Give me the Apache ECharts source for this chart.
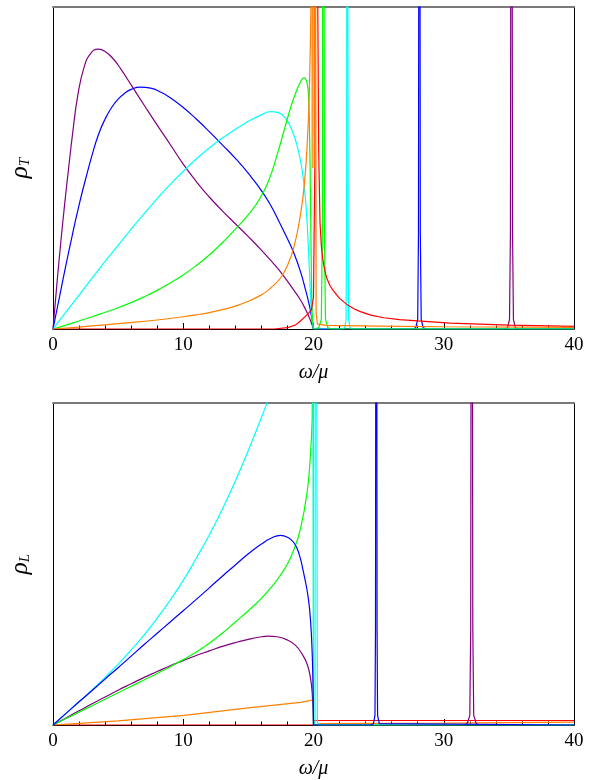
<!DOCTYPE html>
<html>
<head>
<meta charset="utf-8">
<script src="https://cdn.jsdelivr.net/npm/echarts@6/dist/echarts.min.js"></script>
<style>
  html, body { margin: 0; padding: 0; background: #fff; }
  #chart { width: 600px; height: 780px; }
</style>
</head>
<body>
<div id="chart"></div>
<script>
// x ticks shared by both panels
var xTicks = [0, 10, 20, 30, 40];

// upper panel, rho_T (y as fraction of the panel height)
// smooth body of each curve, then the sharp peaks/tails drawn as plain polylines
var topPurple = [[0,0],[0.3,0.14],[0.6,0.27],[0.9,0.39],[1.2,0.5],[1.5,0.605],[1.9,0.725],[2.4,0.815],[2.9,0.856],[3.47,0.869],[4.0,0.862],[4.6,0.84],[5.2,0.808],[6.0,0.758],[7.0,0.695],[8.0,0.633],[9.0,0.573],[10.0,0.512],[11.0,0.458],[12.0,0.41],[13.0,0.367],[14.0,0.327],[15.0,0.287],[16.0,0.245],[17.0,0.2],[17.7,0.165],[18.5,0.12],[19.0,0.09],[19.4,0.06],[19.7,0.033],[19.9,0.012],[20,0]];
var topPurplePeak = [[20,0],[34.6,0],[34.9,0.004],[35.05,0.03],[35.12,0.3],[35.2,3],[35.28,0.3],[35.35,0.03],[35.5,0.004],[35.8,0],[40,0]];
var topBlue = [[0,0],[0.5,0.1],[1,0.2],[1.5,0.295],[2,0.385],[2.5,0.465],[3,0.54],[3.5,0.605],[4,0.652],[4.5,0.688],[5,0.714],[5.5,0.732],[6,0.744],[6.7,0.751],[7.5,0.748],[8.3,0.735],[9,0.718],[10,0.688],[11,0.652],[12,0.613],[13,0.572],[14,0.53],[15,0.483],[16,0.43],[16.7,0.385],[17.4,0.33],[18,0.28],[18.5,0.235],[19,0.178],[19.4,0.12],[19.7,0.07],[19.9,0.025],[20,0]];
var topBluePeak = [[20,0],[27.6,0],[27.85,0.004],[28.0,0.03],[28.06,0.3],[28.13,3],[28.2,0.3],[28.27,0.03],[28.42,0.004],[28.7,0],[40,0]];
var topCyan = [[0,0],[1,0.053],[2,0.105],[3,0.158],[4,0.21],[5,0.26],[6,0.31],[7,0.358],[8,0.405],[9,0.449],[10,0.49],[11,0.528],[12,0.562],[13,0.593],[14,0.62],[15,0.645],[16,0.665],[16.7,0.675],[17.3,0.672],[17.9,0.652],[18.4,0.612],[18.8,0.56],[19.1,0.5],[19.35,0.42],[19.55,0.3],[19.7,0.17],[19.85,0.05],[20,0]];
var topCyanPeak = [[20,0],[22.2,0],[22.4,0.004],[22.5,0.03],[22.54,0.3],[22.6,3],[22.66,0.3],[22.7,0.03],[22.8,0.004],[23,0],[40,0]];
var topGreen = [[0,0],[1,0.012],[2,0.025],[3,0.038],[4,0.052],[5,0.066],[6,0.082],[7,0.1],[8,0.12],[9,0.143],[10,0.168],[11,0.197],[12,0.23],[13,0.268],[14,0.31],[15,0.355],[15.8,0.40],[16.5,0.455],[17.2,0.54],[17.8,0.625],[18.3,0.695],[18.7,0.74],[19.0,0.767],[19.26,0.78],[19.5,0.765],[19.62,0.72],[19.7,0.6],[19.77,0.4],[19.83,0.2],[19.9,0.05],[20,0]];
var topGreenPeak = [[20,0],[20.4,0.004],[20.6,0.03],[20.68,0.3],[20.76,3],[20.84,0.3],[20.92,0.03],[21.1,0.004],[21.4,0],[40,0]];
var topOrange = [[0,0],[2,0.006],[4,0.013],[6,0.02],[8,0.028],[10,0.038],[11,0.044],[12,0.051],[13,0.06],[14,0.071],[15,0.086],[16,0.106],[16.5,0.12],[17,0.138],[17.5,0.16],[18,0.197],[18.5,0.255],[19.0,0.355],[19.3,0.45],[19.55,0.6],[19.7,0.77],[19.8,1.0]];
var topOrangePeak = [[19.8,1.0],[19.85,3],[19.9,0.5],[19.95,3],[20.05,0.5],[20.1,3],[20.2,0.05],[20.3,0.015],[21,0.011],[25,0.009],[30,0.007],[40,0.005]];
var topRed = [[0,0],[17,0],[18,0.004],[18.6,0.012],[19.0,0.025],[19.4,0.04],[19.64,0.05],[19.85,0.06],[20.0,0.1],[20.1,0.5],[20.16,3],[20.25,1.5],[20.4,0.55],[20.5,0.33],[20.6,0.26],[20.7,0.22],[20.85,0.185],[21.0,0.16],[21.25,0.136],[21.5,0.12],[22.0,0.095],[22.6,0.075],[23.1,0.063],[23.6,0.054],[24.4,0.043],[25.4,0.035],[26.6,0.029],[28,0.025],[30.5,0.018],[35,0.012],[40,0.008]];

// lower panel, rho_L
var botCyan = [[0,0],[1,0.036],[2,0.072],[3,0.109],[4,0.148],[5,0.189],[6,0.233],[7,0.28],[8,0.332],[9,0.388],[10,0.449],[11,0.518],[12,0.59],[13,0.67],[14,0.758],[15,0.853],[16,0.955],[17,1.06],[18,1.18]];
var botCyanPeak = [[18,1.18],[19.9,3],[20.0,0],[20.12,0.01],[20.16,3],[20.24,3],[20.3,0.01],[20.4,0],[40,0]];
var botGreen = [[0,0],[1,0.02],[2,0.04],[3,0.06],[4,0.08],[5,0.1],[6,0.12],[7,0.14],[8,0.16],[9,0.181],[10,0.203],[11,0.227],[12,0.254],[13,0.285],[14,0.32],[15,0.355],[16,0.393],[17,0.44],[17.5,0.468],[18,0.5],[18.5,0.545],[19,0.61],[19.5,0.72],[19.75,0.83],[19.9,0.95]];
var botGreenPeak = [[19.9,0.95],[19.97,3],[20.0,0],[40,0]];
var botBlue = [[0,0],[1,0.036],[2,0.072],[3,0.107],[4,0.143],[5,0.178],[6,0.214],[7,0.25],[8,0.285],[9,0.32],[10,0.355],[11,0.39],[12,0.426],[13,0.462],[14,0.497],[15,0.532],[16,0.562],[16.7,0.579],[17.47,0.589],[18,0.583],[18.5,0.566],[18.9,0.53],[19.2,0.48],[19.5,0.42],[19.7,0.36],[19.85,0.27],[19.95,0.15],[20,0]];
var botBluePeak = [[20,0],[24.4,0],[24.6,0.004],[24.72,0.03],[24.76,0.3],[24.82,3],[24.88,0.3],[24.92,0.03],[25.05,0.004],[25.2,0],[40,0]];
var botPurple = [[0,0],[1,0.022],[2,0.044],[3,0.066],[4,0.087],[5,0.108],[6,0.128],[7,0.148],[8,0.166],[9,0.184],[10,0.2],[11,0.216],[12,0.23],[13,0.244],[14,0.256],[15,0.266],[16,0.274],[16.5,0.276],[17.2,0.274],[18,0.264],[18.6,0.248],[19.1,0.222],[19.5,0.19],[19.75,0.15],[19.9,0.1],[20,0]];
var botPurplePeak = [[20,0],[31.5,0],[31.8,0.004],[32.0,0.03],[32.07,0.3],[32.15,3],[32.23,0.3],[32.3,0.03],[32.5,0.004],[32.8,0],[40,0]];
var botOrange = [[0,0],[2,0.005],[5,0.013],[10.06,0.03],[15.17,0.054],[19.0,0.07],[19.99,0.078],[20.0,0],[20.5,0.004],[30,0.006],[40,0.009]];
var botRed = [[0,0],[20,0],[20.08,0.014],[40,0.014]];

var serif = 'Liberation Serif';

function bottomAxis(g) {
    return {
        type: 'value', gridIndex: g, position: 'bottom',
        min: 0, max: 40, interval: 10,
        axisLine: { show: true, onZero: false, lineStyle: { color: '#000', width: 1.2 } },
        axisTick: { show: true, inside: true, length: 6, lineStyle: { color: '#000', width: 1 } },
        minorTick: { show: true, splitNumber: 5, length: 3.5, lineStyle: { color: '#000', width: 1 } },
        axisLabel: { color: '#000', fontFamily: serif, fontSize: 19, margin: 7,
            formatter: function (v) { return xTicks.indexOf(v) >= 0 ? String(v) : ''; } },
        splitLine: { show: false },
        name: 'ω/μ', nameLocation: 'middle', nameGap: 34,
        nameTextStyle: { color: '#000', fontFamily: serif, fontStyle: 'italic', fontSize: 20 }
    };
}
function topAxis(g) {
    return {
        type: 'value', gridIndex: g, position: 'top', min: 0, max: 40,
        axisLine: { show: true, onZero: false, lineStyle: { color: '#7a7a7a', width: 2 } },
        axisTick: { show: false }, axisLabel: { show: false }, splitLine: { show: false }
    };
}
function leftAxis(g, sub) {
    return {
        type: 'value', gridIndex: g, position: 'left', min: 0, max: 1,
        axisLine: { show: true, onZero: false, lineStyle: { color: '#000', width: 1 } },
        axisTick: { show: false }, axisLabel: { show: false }, splitLine: { show: false },
        name: '{a|ρ}{b|' + sub + '}', nameLocation: 'middle', nameRotate: 90, nameGap: 20,
        nameTextStyle: {
            rich: {
                a: { fontFamily: serif, fontStyle: 'italic', fontSize: 25, color: '#000', lineHeight: 25, verticalAlign: 'bottom' },
                b: { fontFamily: serif, fontStyle: 'italic', fontSize: 15, color: '#000', lineHeight: 15, padding: [10, 0, 0, 0], verticalAlign: 'bottom' }
            }
        }
    };
}
function rightAxis(g) {
    return {
        type: 'value', gridIndex: g, position: 'right', min: 0, max: 1,
        axisLine: { show: true, onZero: false, lineStyle: { color: '#000', width: 1 } },
        axisTick: { show: false }, axisLabel: { show: false }, splitLine: { show: false }
    };
}
function line(data, color, xi, yi, smooth) {
    return {
        type: 'line', data: data, xAxisIndex: xi, yAxisIndex: yi,
        showSymbol: false, clip: true,
        smooth: smooth ? 0.5 : false,
        lineStyle: { color: color, width: 1.2 }, silent: true
    };
}

var chart = echarts.init(document.getElementById('chart'));
chart.setOption({
    animation: false,
    backgroundColor: '#fff',
    grid: [
        { left: 52, top: 7, width: 522, height: 322 },
        { left: 52, top: 403, width: 522, height: 322 }
    ],
    xAxis: [bottomAxis(0), topAxis(0), bottomAxis(1), topAxis(1)],
    yAxis: [leftAxis(0, 'T'), rightAxis(0), leftAxis(1, 'L'), rightAxis(1)],
    series: [
        line(topPurple, '#800080', 0, 0, true),
        line(topPurplePeak, '#800080', 0, 0, false),
        line(topBlue, '#0000ff', 0, 0, true),
        line(topBluePeak, '#0000ff', 0, 0, false),
        line(topCyan, '#00ffff', 0, 0, true),
        line(topCyanPeak, '#00ffff', 0, 0, false),
        line(topGreen, '#00ff00', 0, 0, true),
        line(topGreenPeak, '#00ff00', 0, 0, false),
        line(topRed, '#ff0000', 0, 0, false),
        line(topOrange, '#ff8000', 0, 0, true),
        line(topOrangePeak, '#ff8000', 0, 0, false),
        line(botRed, '#ff0000', 2, 2, false),
        line(botOrange, '#ff8000', 2, 2, false),
        line(botPurple, '#800080', 2, 2, true),
        line(botPurplePeak, '#800080', 2, 2, false),
        line(botGreen, '#00ff00', 2, 2, true),
        line(botGreenPeak, '#00ff00', 2, 2, false),
        line(botCyan, '#00ffff', 2, 2, true),
        line(botCyanPeak, '#00ffff', 2, 2, false),
        line(botBlue, '#0000ff', 2, 2, true),
        line(botBluePeak, '#0000ff', 2, 2, false)
    ]
});
</script>
</body>
</html>
